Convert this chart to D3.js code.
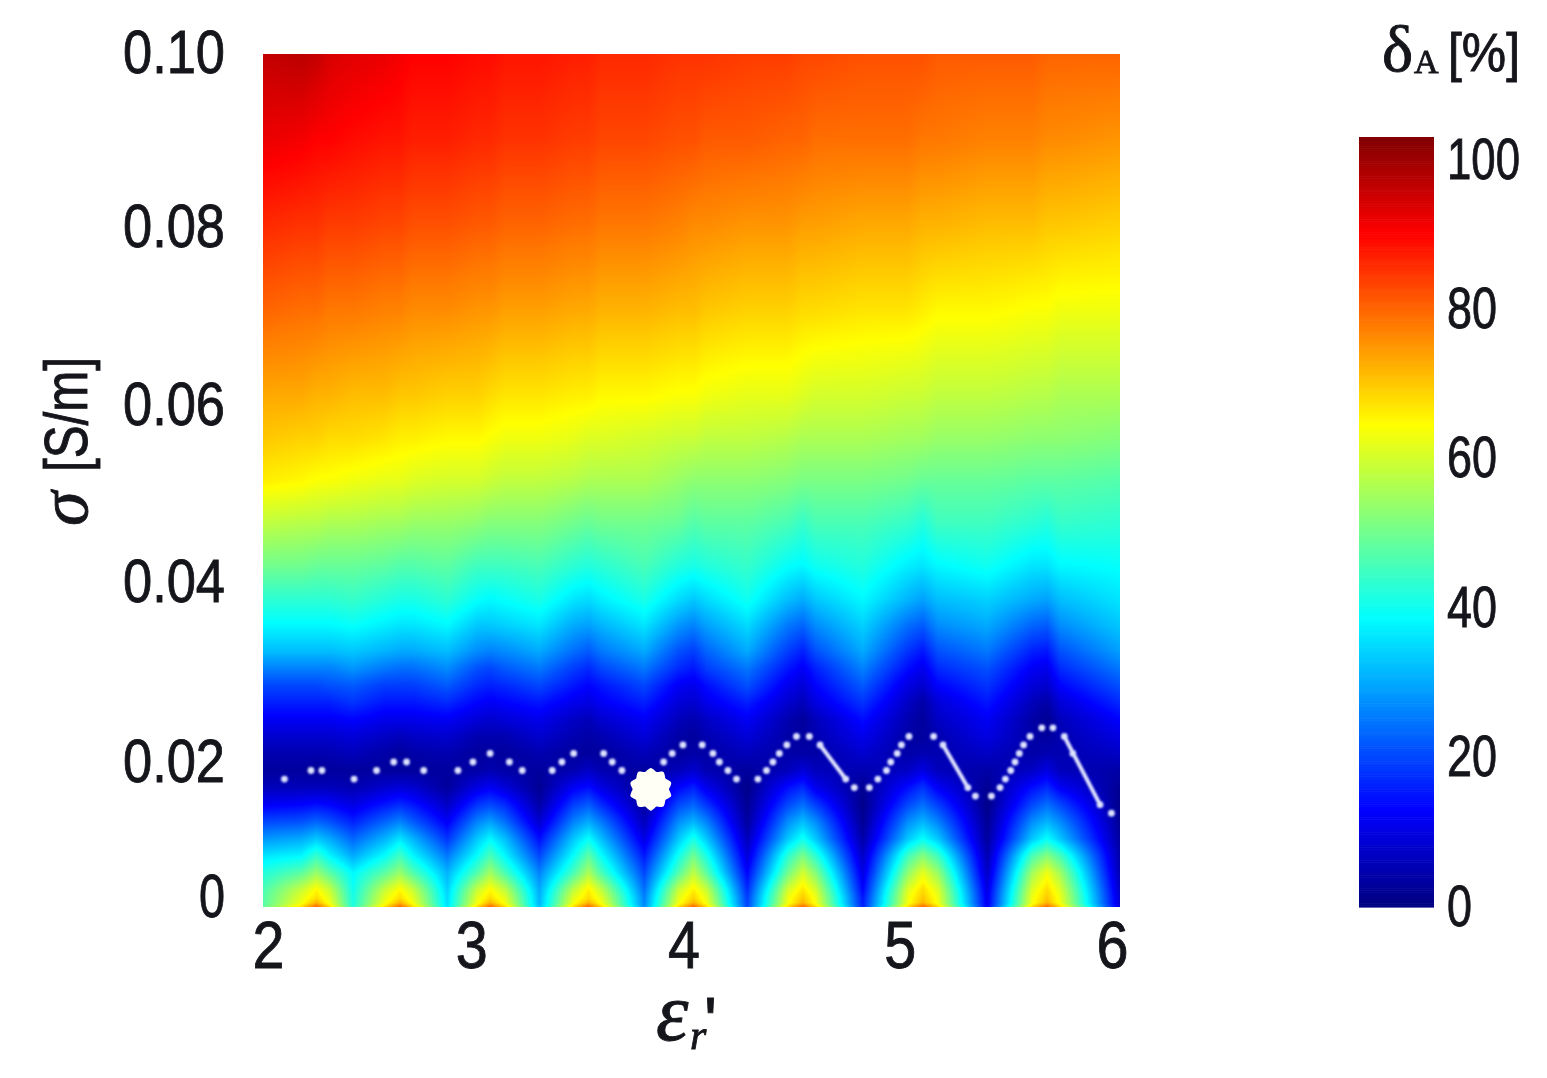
<!DOCTYPE html>
<html>
<head>
<meta charset="utf-8">
<script src="https://cdn.jsdelivr.net/npm/d3@7"></script>
<style>
html,body{margin:0;padding:0;background:#fff;width:1547px;height:1078px;overflow:hidden}
#wrap{position:relative;width:1547px;height:1078px;filter:blur(0.6px)}
canvas,svg{position:absolute;left:0;top:0}
text{font-family:"Liberation Sans",Arial,sans-serif;fill:#15151c;stroke:#15151c;stroke-width:0.9px}
</style>
</head>
<body>
<div id="wrap"><canvas id="heat"></canvas><svg id="chart" width="1547" height="1078"><defs><filter id="soft" x="-5%" y="-5%" width="110%" height="110%"><feGaussianBlur stdDeviation="0.8"/></filter></defs></svg></div>
<script>
// ---- data ----
const epsilonGrid = [2.00,2.18,2.25,2.31,2.42,2.57,2.64,2.70,2.86,3.00,3.06,3.13,3.29,3.45,3.52,3.58,3.78,3.94,4.01,4.07,4.26,4.45,4.52,4.58,4.80,5.01,5.08,5.15,5.38,5.59,5.66,5.72,6.00];
const sigmaGrid = [0,.0005,.001,.002,.004,.006,.008,.010,.012,.014,.016,.018,.020,.022,.024,.026,.028,.030,.033,.036,.04,.045,.05,.055,.06,.07,.08,.09,.10];
const deltaA = [
[48,68,80,68,42,68,80,68,36,68,80,68,32,68,80,68,27,68,80,68,20,68,80,68,16,68,80,68,12,68,80,68,9],
[47,63,72,63,41,63,72,63,35,63,72,63,31,63,72,63,26,63,72,63,19,63,72,63,15,63,72,63,11,63,72,63,8],
[47,62,68,62,41,62,68,62,35,62,68,62,31,62,68,62,26,62,69,62,19,63,70,63,15,63,70,63,11,63,70,63,8],
[46,59,65,59,40,59,65,59,34,59,65,58,30,58,66,58,24,59,66,59,17,60,67,60,13,61,68,61,10,61,68,61,7],
[42,48,54,48,38,48,54,47,31,47,55,46,26,46,56,46,20,47,58,48,13,50,60,52,10,53,62,54,7,55,63,55,5],
[36,38,44,38,30,39,45,38,25,39,46,38,20,39,48,39,15,40,50,41,9,43,51,43,7,45,52,45,5,46,52,46,4],
[28,30,33,30,23,31,36,31,18,33,38,32,14,33,39,32,10,33,41,33,6,33,40,33,4,33,39,33,3,33,39,33,3],
[20,21,23,21,16,23,26,22,12,26,29,24,8,26,30,25,6,27,31,26,3,27,32,27,2,27,31,26,2,27,31,27,2],
[12,13,14,13,10,15,17,15,7,18,20,17,4,19,22,17,3,20,23,18,2,20,24,19,1,20,24,19,1,20,24,20,1],
[6,6,6,6,5,8,9,8,3,10,12,9,2,12,14,10,2,13,16,11,1,14,17,11,2,14,18,12,2,14,17,12,2],
[3,3,2,3,3,3,3,3,3,4,5,4,3,5,7,5,3,6,8,5,3,6,9,6,5,7,10,6,4,7,10,6,4],
[5,5,5,5,6,4,3,4,5,3,3,3,5,3,3,3,6,3,4,4,6,4,4,4,8,4,5,5,7,4,5,5,7],
[8,8,8,8,9,7,6,7,8,5,5,5,8,5,4,5,9,4,3,5,9,4,3,5,11,4,3,5,10,4,3,5,10],
[12,12,12,12,13,11,11,11,12,9,8,9,11,7,6,8,12,6,5,7,12,5,3,6,14,5,3,7,12,4,2,6,13],
[16,16,16,16,18,15,15,15,17,13,12,13,15,11,10,12,16,9,8,11,16,8,6,10,18,7,4,9,15,6,4,9,17],
[20,20,20,21,22,19,19,19,22,17,16,17,20,15,13,15,20,12,11,14,21,11,9,13,22,10,8,13,18,9,8,13,21],
[26,26,26,26,28,25,24,24,27,21,20,22,25,19,17,20,25,17,15,19,25,15,12,16,26,14,11,17,21,12,11,17,25],
[32,32,32,32,33,31,30,30,32,27,26,27,30,24,22,25,30,21,19,23,30,19,16,21,30,18,15,21,25,16,15,21,29],
[38,38,38,38,39,37,36,36,38,33,33,34,36,30,29,31,36,28,26,29,35,25,23,27,34,24,22,27,30,23,22,27,33],
[43,43,43,43,44,42,41,41,43,39,38,39,41,36,35,37,41,35,33,35,40,32,30,33,38,31,29,32,34,30,29,32,36],
[50,50,49,49,49,48,47,47,48,45,45,45,46,43,42,43,46,42,41,42,44,39,38,40,42,37,36,38,40,36,36,38,39],
[58,57,57,56,56,55,55,54,54,53,52,52,52,50,49,50,50,49,47,48,48,46,44,46,46,44,42,45,45,43,42,44,43],
[66,65,64,64,63,62,62,61,60,60,59,58,58,57,56,56,56,54,53,53,53,52,51,51,51,50,49,49,49,48,48,48,47],
[70,69,69,68,68,67,66,66,65,65,64,63,63,62,61,61,60,59,59,58,58,57,56,56,56,55,55,54,54,53,53,53,52],
[73,73,72,72,71,71,70,70,69,69,68,67,67,66,66,65,65,64,64,63,62,62,61,60,60,59,59,58,58,57,57,56,56],
[80,79,79,78,78,77,77,76,76,75,75,74,74,73,73,72,72,71,71,70,69,69,68,68,67,67,66,65,65,64,64,63,63],
[86,85,85,84,84,83,83,82,82,81,81,80,80,79,79,78,78,77,76,76,75,75,74,74,73,73,72,72,71,71,70,70,69],
[92,91,90,90,89,88,88,87,87,86,86,85,85,84,84,83,83,82,82,81,81,80,80,79,79,79,78,78,77,77,76,76,75],
[96,97,96,94,93,92,91,90,90,89,89,88,88,87,87,86,86,85,85,85,84,84,83,83,82,82,82,81,81,81,80,80,80]
];
const minLineEps = [2.10,2.224,2.275,2.425,2.53,2.61,2.67,2.75,2.91,2.98,3.06,3.15,3.21,3.35,3.395,3.45,3.59,3.63,3.675,3.87,3.91,3.96,4.05,4.10,4.13,4.17,4.21,4.31,4.35,4.38,4.41,4.445,4.49,4.55,4.60,4.72,4.76,4.83,4.87,4.91,4.93,4.96,4.98,5.015,5.13,5.174,5.29,5.325,5.40,5.44,5.465,5.49,5.51,5.53,5.55,5.58,5.635,5.687,5.74,5.78,5.907,5.96];
const minLineSigma = [.015,.016,.016,.015,.016,.017,.017,.016,.016,.017,.018,.017,.016,.016,.017,.018,.018,.017,.016,.017,.018,.019,.019,.018,.017,.016,.015,.015,.016,.017,.018,.019,.020,.020,.019,.015,.014,.014,.015,.016,.017,.018,.019,.020,.020,.019,.014,.013,.013,.014,.015,.016,.017,.018,.019,.020,.021,.021,.020,.018,.012,.011];
const streakEps = [[4.60,4.72],[5.174,5.29],[5.74,5.907]];
const streakSigma = [[.019,.015],[.019,.014],[.020,.012]];
const optimumEps = 3.81, optimumSigma = .0138;
const xTicks = [2,3,4,5,6];
const yTicks = [0,.02,.04,.06,.08,.10];
const yTickText = ["0","0.02","0.04","0.06","0.08","0.10"];
const barTicks = [0,20,40,60,80,100];

// ---- layout ----
const plot = {l:263, r:1120, t:54, b:907};
const bar = {l:1359, r:1434, t:137, b:907};
const xLabelNudge = [5,-6,-8,-6,-8];
const yLabelNudge = [-13,23,14,7,0,-4];

const x = d3.scaleLinear().domain([2,6]).range([plot.l,plot.r]);
const y = d3.scaleLinear().domain([0,.1]).range([plot.b,plot.t]);
const vBar = d3.scaleLinear().domain([0,100]).range([bar.b,160]);
const jet = d3.scaleLinear()
  .domain([0,12.9,38.6,64.4,90,103])
  .range(["rgb(0,0,128)","rgb(0,0,255)","rgb(0,255,255)","rgb(255,255,0)","rgb(255,0,0)","rgb(128,0,0)"])
  .clamp(true);

// ---- heat field ----
const canvas = document.getElementById('heat');
canvas.width = plot.r-plot.l; canvas.height = plot.b-plot.t;
canvas.style.left = plot.l+'px'; canvas.style.top = plot.t+'px';
const ctx = canvas.getContext('2d');
const img = ctx.createImageData(canvas.width, canvas.height);
const lut = d3.range(0,1031).map(i=>d3.rgb(jet(i/10)));
const bis = d3.bisector(d=>d).right;
function locate(arr,v){
  let i = Math.min(arr.length-2, Math.max(0, bis(arr,v)-1));
  return [i,(v-arr[i])/(arr[i+1]-arr[i])];
}
const cols = d3.range(canvas.width).map(px=>locate(epsilonGrid,x.invert(plot.l+px+.5)));
for(let py=0;py<canvas.height;py++){
  const [j,ty] = locate(sigmaGrid,Math.max(0,y.invert(plot.t+py+.5)));
  const r0 = deltaA[j], r1 = deltaA[j+1];
  for(let px=0;px<canvas.width;px++){
    const [i,tx] = cols[px];
    const a = r0[i]+(r0[i+1]-r0[i])*tx, b = r1[i]+(r1[i+1]-r1[i])*tx;
    const c = lut[Math.round((a+(b-a)*ty)*10)];
    const o = (py*canvas.width+px)*4;
    img.data[o]=c.r; img.data[o+1]=c.g; img.data[o+2]=c.b; img.data[o+3]=255;
  }
}
ctx.putImageData(img,0,0);

// ---- svg overlay ----
const svg = d3.select('#chart');

// streaks + dots of the minimum line
const minGroup = svg.append('g').attr('filter','url(#soft)');
const line = d3.line().x(d=>x(d[0])).y(d=>y(d[1]));
minGroup.append('g').selectAll('path').data(streakEps.map((e,i)=>e.map((v,k)=>[v,streakSigma[i][k]])))
  .join('path').attr('d',line).attr('fill','none').attr('stroke','#e2e6ff')
  .attr('stroke-width',4).attr('stroke-linecap','round');
minGroup.append('g').selectAll('circle').data(minLineEps)
  .join('circle').attr('cx',d=>x(d)).attr('cy',(d,i)=>y(minLineSigma[i]))
  .attr('r',3.4).attr('fill','#dde2ff');

// optimum marker
const lobes = d3.range(0,40).map(i=>[i/40*2*Math.PI, 19.8+1.6*Math.cos(i/40*2*Math.PI*10)]);
svg.append('path')
  .attr('d',d3.lineRadial().curve(d3.curveCardinalClosed)(lobes))
  .attr('transform',`translate(${x(optimumEps)},${y(optimumSigma)})`)
  .attr('fill','#fffff6');

// x axis labels
const xAxis = svg.append('g').attr('transform',`translate(0,${plot.b})`)
  .call(d3.axisBottom(x).tickValues(xTicks).tickFormat(d3.format('d')).tickSize(0));
xAxis.select('.domain').remove();
xAxis.selectAll('text')
  .attr('dx',(d,i)=>xLabelNudge[i]).attr('y',61).attr('dy',0)
  .attr('font-size',66).attr('text-anchor','middle')
  .attr('textLength',32).attr('lengthAdjust','spacingAndGlyphs')
  .style('font-family','"Liberation Sans"').style('fill','#15151c');

// y axis labels
const yAxis = svg.append('g').attr('transform',`translate(225,0)`)
  .call(d3.axisLeft(y).tickValues(yTicks).tickFormat((d,i)=>yTickText[i]).tickSize(0).tickPadding(0));
yAxis.select('.domain').remove();
yAxis.selectAll('text')
  .attr('x',0).attr('dy',(d,i)=>yLabelNudge[i]+22)
  .attr('font-size',62).attr('text-anchor','end')
  .attr('textLength',(d,i)=>i===0?26:102).attr('lengthAdjust','spacingAndGlyphs')
  .style('font-family','"Liberation Sans"').style('fill','#15151c');

// colour bar
const barVals = d3.range(0,103,0.25);
const vFull = d3.scaleLinear().domain([0,103]).range([bar.b,bar.t]);
svg.append('g').selectAll('rect').data(barVals).join('rect')
  .attr('x',bar.l).attr('width',bar.r-bar.l)
  .attr('y',d=>vFull(d+0.25)).attr('height',d=>vFull(d)-vFull(d+0.25)+.6)
  .attr('fill',d=>jet(d));
const barAxis = svg.append('g').attr('transform',`translate(1447,0)`)
  .call(d3.axisRight(vBar).tickValues(barTicks).tickSize(0).tickPadding(0));
barAxis.select('.domain').remove();
barAxis.selectAll('text')
  .attr('x',0).attr('dy',18)
  .attr('font-size',58).attr('text-anchor','start')
  .attr('textLength',d=>d===100?73:d===0?25:50).attr('lengthAdjust','spacingAndGlyphs')
  .style('font-family','"Liberation Sans"').style('fill','#15151c');

// colour bar title
svg.append('text').attr('x',1382).attr('y',71).attr('font-size',66)
  .style('font-family','"Liberation Serif"').text('δ');
svg.append('text').attr('x',1414).attr('y',73).attr('font-size',34)
  .style('font-family','"Liberation Serif"').text('A');
svg.append('text').attr('x',1448).attr('y',71).attr('font-size',54)
  .attr('textLength',72).attr('lengthAdjust','spacingAndGlyphs').text('[%]');

// y axis title
svg.append('text').attr('transform','translate(87,526) rotate(-90)')
  .attr('font-size',70).style('font-family','"Liberation Serif"').style('font-style','italic').text('σ');
svg.append('text').attr('transform','translate(87,472) rotate(-90)')
  .attr('font-size',62).attr('textLength',115).attr('lengthAdjust','spacingAndGlyphs').text('[S/m]');

// x axis title
svg.append('text').attr('x',656).attr('y',1040).attr('font-size',82)
  .style('font-family','"Liberation Serif"').style('font-style','italic').text('ε');
svg.append('text').attr('x',690).attr('y',1049).attr('font-size',42)
  .style('font-family','"Liberation Serif"').style('font-style','italic').text('r');
svg.append('text').attr('x',704).attr('y',1045).attr('font-size',68)
  .text("'");
</script>
</body>
</html>
